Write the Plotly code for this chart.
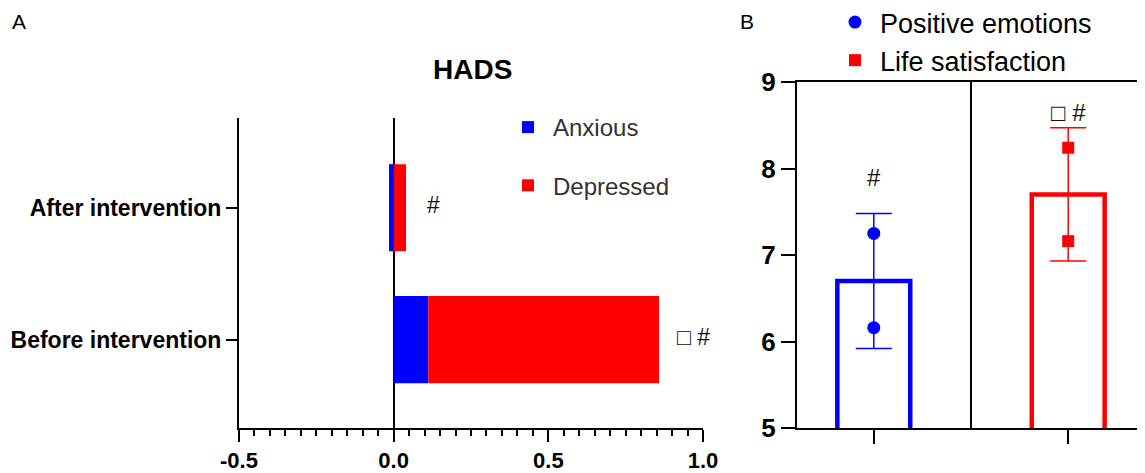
import plotly.graph_objects as go

# ---------------- Data ----------------
# Panel A (HADS)
hads_categories = ["Before intervention", "After intervention"]
anxious_values = [0.112, -0.015]
depressed_values = [0.746, 0.040]
hads_marks = ["\u25a1 #", "#"]
hads_mark_x = [0.97, 0.13]
hads_tick_vals = [-0.5, 0.0, 0.5, 1.0]
hads_tick_text = ["-0.5", "0.0", "0.5", "1.0"]

# Panel B
b_groups = ["Positive emotions", "Life satisfaction"]
b_means = [6.70, 7.70]
b_sd = [0.78, 0.77]
pos_points = [7.25, 6.16]
life_points = [8.24, 7.16]
b_marks = ["#", "\u25a1 #"]
b_mark_y = [7.9, 8.65]
b_tick_vals = [5, 6, 7, 8, 9]

BLUE = "#0000FF"
RED = "#FF0000"
FONT = "Liberation Sans, Arial, sans-serif"

# page geometry (the HTML body adds an 8px margin)
OFF = 8
W, H = 1145 - OFF, 473 - OFF


def px(X):
    return (X - OFF) / W


def py(Y):
    return 1 - (Y - OFF) / H


fig = go.Figure()

# ---------------- Panel A ----------------
fig.add_trace(go.Bar(
    y=hads_categories, x=anxious_values, orientation="h", name="Anxious",
    marker=dict(color=BLUE, line=dict(width=0)), width=0.66,
    xaxis="x", yaxis="y", legend="legend", legendgroup="a1"))
fig.add_trace(go.Bar(
    y=hads_categories, x=depressed_values, orientation="h", name="Depressed",
    marker=dict(color=RED, line=dict(width=0)), width=0.66,
    xaxis="x", yaxis="y", legend="legend", legendgroup="a2"))

annotations = []
for cat, mx, mk in zip(hads_categories, hads_mark_x, hads_marks):
    annotations.append(dict(
        x=mx, y=cat, xref="x", yref="y", yshift=3,
        text=mk, showarrow=False, font=dict(family=FONT, size=23, color="#111")))

# ---------------- Panel B ----------------
b_x = [0, 1]
for i, (g, m, s, col) in enumerate(zip(b_groups, b_means, b_sd, [BLUE, RED])):
    fig.add_trace(go.Bar(
        x=[b_x[i]], y=[m], width=0.375, showlegend=False,
        marker=dict(color="rgba(255,255,255,0)", line=dict(color=col, width=4.5)),
        error_y=dict(type="data", array=[s], color=col, thickness=1.5, width=18),
        xaxis="x2", yaxis="y2"))

fig.add_trace(go.Scatter(
    x=[b_x[0]] * len(pos_points), y=pos_points, mode="markers", name="Positive emotions",
    marker=dict(symbol="circle", size=13, color=BLUE),
    xaxis="x2", yaxis="y2", legend="legend2", legendgroup="b1"))
fig.add_trace(go.Scatter(
    x=[b_x[1]] * len(life_points), y=life_points, mode="markers", name="Life satisfaction",
    marker=dict(symbol="square", size=12, color=RED),
    xaxis="x2", yaxis="y2", legend="legend2", legendgroup="b2"))

for xi, my, mk in zip(b_x, b_mark_y, b_marks):
    annotations.append(dict(
        x=xi, y=my, xref="x2", yref="y2", text=mk, showarrow=False,
        yanchor="middle", font=dict(family=FONT, size=24, color="#111")))

# divider between the two groups
shapes = [
    dict(type="line", xref="x2", yref="y2 domain", x0=0.5, x1=0.5, y0=0, y1=1,
         line=dict(color="black", width=2)),
]

# panel labels and title
annotations += [
    dict(x=px(10), y=1.0, xref="paper", yref="paper", text="A", showarrow=False,
         xanchor="left", yanchor="top", font=dict(family=FONT, size=21, color="black")),
    dict(x=px(738), y=1.0, xref="paper", yref="paper", text="B", showarrow=False,
         xanchor="left", yanchor="top", font=dict(family=FONT, size=21, color="black")),
    dict(x=px(472), y=py(70), xref="paper", yref="paper", text="<b>HADS</b>",
         showarrow=False, xanchor="center", yanchor="middle",
         font=dict(family=FONT, size=28, color="black")),
]

fig.update_layout(
    template="none",
    width=W, height=H,
    margin=dict(l=0, r=0, t=0, b=0, autoexpand=False),
    paper_bgcolor="white", plot_bgcolor="white",
    barmode="relative",
    font=dict(family=FONT, color="black"),
    xaxis=dict(
        domain=[px(239), px(703)], anchor="y", automargin=False,
        range=[-0.5, 1.0], tickvals=hads_tick_vals, ticktext=hads_tick_text,
        showline=True, linecolor="black", linewidth=2,
        ticks="outside", ticklen=12, tickwidth=2, tickcolor="black",
        minor=dict(dtick=0.05, tick0=0, ticks="outside", ticklen=6, tickwidth=1.5, tickcolor="black"),
        showgrid=False, zeroline=True, zerolinecolor="black", zerolinewidth=2,
        tickfont=dict(family=FONT, size=22, color="black", weight="bold"),
    ),
    yaxis=dict(
        domain=[py(428), py(118)], anchor="x", automargin=False,
        type="category", categoryorder="array", categoryarray=hads_categories,
        range=[-0.67, 1.68],
        showline=True, linecolor="black", linewidth=2,
        ticks="outside", ticklen=11, tickwidth=2, tickcolor="black",
        showgrid=False, zeroline=False,
        tickfont=dict(family=FONT, size=23, color="black", weight="bold"),
    ),
    xaxis2=dict(
        domain=[px(797), 1.0], anchor="y2", automargin=False,
        range=[-0.395, 1.395], tickvals=b_x, showticklabels=False,
        showline=True, linecolor="black", linewidth=2, mirror=True,
        ticks="outside", ticklen=14, tickwidth=2, tickcolor="black",
        showgrid=False, zeroline=False,
    ),
    yaxis2=dict(
        domain=[py(428), py(82)], anchor="x2", automargin=False,
        range=[5, 9], tickvals=b_tick_vals,
        showline=True, linecolor="black", linewidth=2,
        ticks="outside", ticklen=14, tickwidth=2, tickcolor="black",
        showgrid=False, zeroline=False,
        tickfont=dict(family=FONT, size=26, color="black", weight="bold"),
    ),
    legend=dict(
        x=px(503), y=py(105), xanchor="left", yanchor="top",
        bgcolor="rgba(0,0,0,0)", traceorder="grouped", tracegroupgap=24,
        font=dict(family=FONT, size=24, color="#333"), itemwidth=40,
    ),
    legend2=dict(
        x=px(830), y=py(-2), xanchor="left", yanchor="top",
        bgcolor="rgba(0,0,0,0)", traceorder="grouped", tracegroupgap=0,
        font=dict(family=FONT, size=27, color="black"), itemwidth=40,
    ),
    annotations=annotations,
    shapes=shapes,
)

fig.write_html("out.html")
